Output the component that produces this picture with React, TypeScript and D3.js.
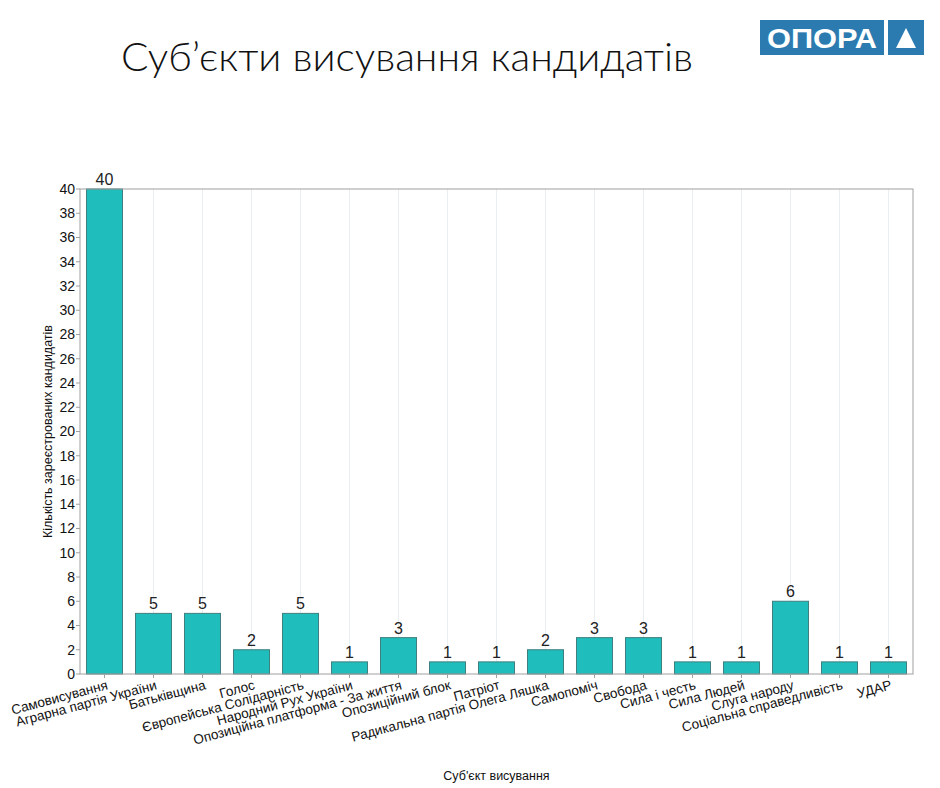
import * as React from 'react'
import * as d3 from 'd3'

const categories = [
  'Самовисування',
  'Аграрна партія України',
  'Батьківщина',
  'Голос',
  'Європейська Солідарність',
  'Народний Рух України',
  'Опозиційна платформа - За життя',
  'Опозиційний блок',
  'Патріот',
  'Радикальна партія Олега Ляшка',
  'Самопоміч',
  'Свобода',
  'Сила і честь',
  'Сила Людей',
  'Слуга народу',
  'Соціальна справедливість',
  'УДАР',
]
const counts = [40, 5, 5, 2, 5, 1, 3, 1, 1, 2, 3, 3, 1, 1, 6, 1, 1]
const yTicks = d3.range(0, 42, 2)

const W = 940
const H = 788
const margin = { left: 80, right: 27, top: 189, bottom: 114 }

export default function App() {
  const x = d3.scaleBand<string>()
    .domain(categories)
    .range([margin.left, W - margin.right])
    .paddingInner(0.265)
    .paddingOuter(0.1325)
  const y = d3.scaleLinear().domain([0, 40]).range([H - margin.bottom, margin.top])
  const font = '"Liberation Sans", Arial, sans-serif'
  const plotBottom = H - margin.bottom

  return (
    <svg width={W} height={H} style={{ position: 'absolute', left: 0, top: 0, background: '#fff' }}>
      {/* title */}
      <text x={121} y={71} fontFamily='Lato, "Open Sans", sans-serif' fontWeight={300} fontSize={40}
        textLength={572} lengthAdjust="spacingAndGlyphs" fill="#111">
        Суб’єкти висування кандидатів
      </text>

      {/* logo */}
      <rect x={760} y={20} width={124} height={35} fill="#2b7bb0" />
      <text x={822} y={48} textAnchor="middle" fill="#fff" fontFamily={font}
        fontWeight="bold" fontSize={28} textLength={110} lengthAdjust="spacingAndGlyphs">ОПОРА</text>
      <rect x={888} y={20} width={36} height={35} fill="#2b7bb0" />
      <path d="M906,28 L916,48 L896,48 Z" fill="#fff" />

      {/* vertical grid */}
      {categories.map(c => (
        <line key={c} x1={x(c)! + x.bandwidth() / 2} x2={x(c)! + x.bandwidth() / 2}
          y1={margin.top} y2={plotBottom} stroke="#e8eef1" strokeWidth={1} />
      ))}

      {/* bars */}
      {categories.map((c, i) => (
        <g key={c}>
          <rect x={x(c)!} y={y(counts[i])} width={x.bandwidth()} height={plotBottom - y(counts[i])}
            fill="#1fbdbb" stroke="#3f7f7f" strokeWidth={1} />
          <text x={x(c)! + x.bandwidth() / 2} y={y(counts[i]) - 4} textAnchor="middle"
            fontFamily={font} fontSize={16} fill="#222">{counts[i]}</text>
        </g>
      ))}

      {/* frame */}
      <rect x={margin.left} y={margin.top} width={W - margin.left - margin.right}
        height={plotBottom - margin.top} fill="none" stroke="#a0a0a0" strokeWidth={1} />

      {/* y axis */}
      {yTicks.map(t => (
        <g key={t}>
          <line x1={margin.left - 4} x2={margin.left} y1={y(t)} y2={y(t)} stroke="#a0a0a0" />
          <text x={margin.left - 5} y={y(t)} dy="0.35em" textAnchor="end"
            fontFamily={font} fontSize={14} fill="#111">{t}</text>
        </g>
      ))}
      <text transform={`translate(52,${(margin.top + plotBottom) / 2}) rotate(-90)`}
        textAnchor="middle" fontFamily={font} fontSize={12.5} fill="#111">
        Кількість зареєстрованих кандидатів
      </text>

      {/* x axis labels */}
      {categories.map(c => {
        const cx = x(c)! + x.bandwidth() / 2
        return (
          <g key={c}>
            <line x1={cx} x2={cx} y1={plotBottom} y2={plotBottom + 4} stroke="#a0a0a0" />
            <text transform={`translate(${cx + 4},${plotBottom + 15}) rotate(-15)`}
              textAnchor="end" fontFamily={font} fontSize={13.5} fill="#111">{c}</text>
          </g>
        )
      })}
      <text x={(margin.left + W - margin.right) / 2} y={780} textAnchor="middle"
        fontFamily={font} fontSize={12.5} fill="#111">Суб'єкт висування</text>
    </svg>
  )
}
